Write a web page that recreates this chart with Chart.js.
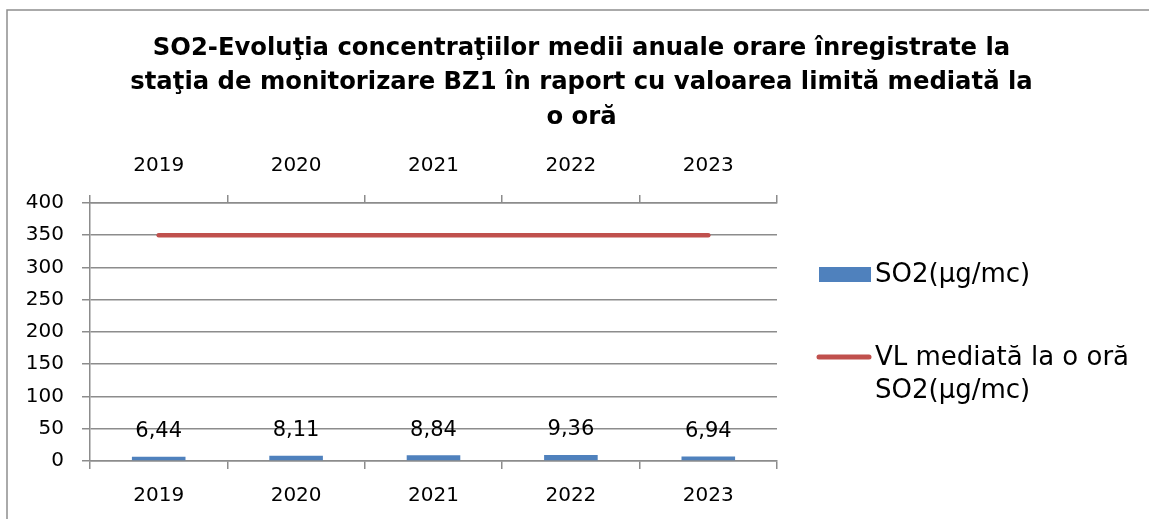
<!DOCTYPE html>
<html>
<head>
<meta charset="utf-8">
<script src="https://cdn.jsdelivr.net/npm/chart.js@4"></script>
<style>
    body { margin: 0; background: #ffffff; }
    canvas { display: block; }
</style>
</head>
<body>
<canvas id="so2-chart" width="1149" height="519"></canvas>
<script>
const years = ["2019", "2020", "2021", "2022", "2023"];
const so2Values = [6.44, 8.11, 8.84, 9.36, 6.94];
const limitValues = [350, 350, 350, 350, 350];
const titleLines = [
    "SO2-Evoluţia concentraţiilor medii anuale orare înregistrate la",
    "staţia de monitorizare BZ1 în raport cu valoarea limită mediată la",
    "o oră"
];

const FONT = "'DejaVu Sans', sans-serif";
const GRID = "#8c8c8c";

// border round the whole chart (only top and left edges are visible)
const frame = {
    id: "frame",
    beforeDraw(chart) {
        const ctx = chart.ctx;
        ctx.save();
        ctx.fillStyle = "#ffffff";
        ctx.fillRect(0, 0, chart.width, chart.height);
        ctx.strokeStyle = "#8e8e8e";
        ctx.lineWidth = 1.5;
        ctx.beginPath();
        ctx.moveTo(7, chart.height);
        ctx.lineTo(7, 10);
        ctx.lineTo(chart.width, 10);
        ctx.stroke();
        ctx.restore();
    }
};

// value labels above the bars, with decimal comma
const barLabels = {
    id: "barLabels",
    afterDatasetsDraw(chart) {
        const ctx = chart.ctx;
        const meta = chart.getDatasetMeta(0);
        ctx.save();
        ctx.font = "21px " + FONT;
        ctx.fillStyle = "#000000";
        ctx.textAlign = "center";
        ctx.textBaseline = "middle";
        meta.data.forEach((bar, i) => {
            const v = chart.data.datasets[0].data[i];
            ctx.fillText(v.toFixed(2).replace(".", ","), bar.x, bar.y - 25);
        });
        ctx.restore();
    }
};

// legend on the right, second label wraps on two lines
const sideLegend = {
    id: "sideLegend",
    afterDraw(chart) {
        const ctx = chart.ctx;
        const sets = chart.data.datasets;
        ctx.save();
        ctx.font = "26px " + FONT;
        ctx.textAlign = "left";
        ctx.textBaseline = "middle";

        ctx.fillStyle = sets[0].backgroundColor;
        ctx.fillRect(819, 267, 52, 15);
        ctx.fillStyle = "#000000";
        ctx.fillText(sets[0].label, 875, 275);

        ctx.strokeStyle = sets[1].borderColor;
        ctx.lineWidth = 5;
        ctx.lineCap = "round";
        ctx.beginPath();
        ctx.moveTo(819, 357);
        ctx.lineTo(869, 357);
        ctx.stroke();
        sets[1].label.split("\n").forEach((line, i) => {
            ctx.fillText(line, 875, 358 + i * 33);
        });
        ctx.restore();
    }
};

const tickFont = { family: FONT, size: 20 };

new Chart(document.getElementById("so2-chart"), {
    data: {
        labels: years,
        datasets: [
            {
                type: "bar",
                label: "SO2(µg/mc)",
                data: so2Values,
                backgroundColor: "#4f81bd",
                barPercentage: 0.39,
                categoryPercentage: 1,
                order: 2
            },
            {
                type: "line",
                label: "VL mediată la o oră\nSO2(µg/mc)",
                data: limitValues,
                borderColor: "#c0504d",
                borderWidth: 4.5,
                borderCapStyle: "round",
                pointRadius: 0,
                tension: 0,
                fill: false,
                order: 1
            }
        ]
    },
    options: {
        responsive: false,
        animation: false,
        layout: { padding: { left: 14, right: 0, top: 0, bottom: 0 } },
        plugins: {
            legend: { display: false },
            tooltip: { enabled: false },
            title: {
                display: true,
                text: titleLines,
                color: "#000000",
                font: { family: FONT, size: 24.3, weight: "bold", lineHeight: 1.42 },
                padding: { top: 31, bottom: 0 }
            }
        },
        scales: {
            x: {
                position: "bottom",
                offset: true,
                grid: { offset: true, drawOnChartArea: false, drawTicks: true, tickLength: 8, color: GRID, lineWidth: 1.5 },
                border: { display: true, color: GRID, width: 1.5 },
                ticks: { color: "#000000", font: tickFont, padding: 15, maxRotation: 0 },
                afterFit: (s) => { s.height = 58; }
            },
            x2: {
                type: "category",
                position: "top",
                labels: years,
                offset: true,
                grid: { offset: true, drawOnChartArea: false, drawTicks: true, tickLength: 8, color: GRID, lineWidth: 1.5 },
                border: { display: true, color: GRID, width: 1.5 },
                ticks: { color: "#000000", font: tickFont, padding: 17, maxRotation: 0 },
                afterFit: (s) => { s.height = 68.4; }
            },
            y: {
                position: "left",
                min: 0,
                max: 400,
                ticks: { stepSize: 50, color: "#000000", font: tickFont, padding: 18 },
                grid: { color: GRID, lineWidth: 1.5, tickLength: 8 },
                border: { display: true, color: GRID, width: 1.5 },
                afterFit: (s) => { s.width = 76; }
            },
            yRight: {
                type: "linear",
                position: "right",
                display: true,
                grid: { display: false },
                border: { display: false },
                ticks: { display: false },
                afterFit: (s) => { s.width = 372; }
            }
        }
    },
    plugins: [frame, barLabels, sideLegend]
});
</script>
</body>
</html>
